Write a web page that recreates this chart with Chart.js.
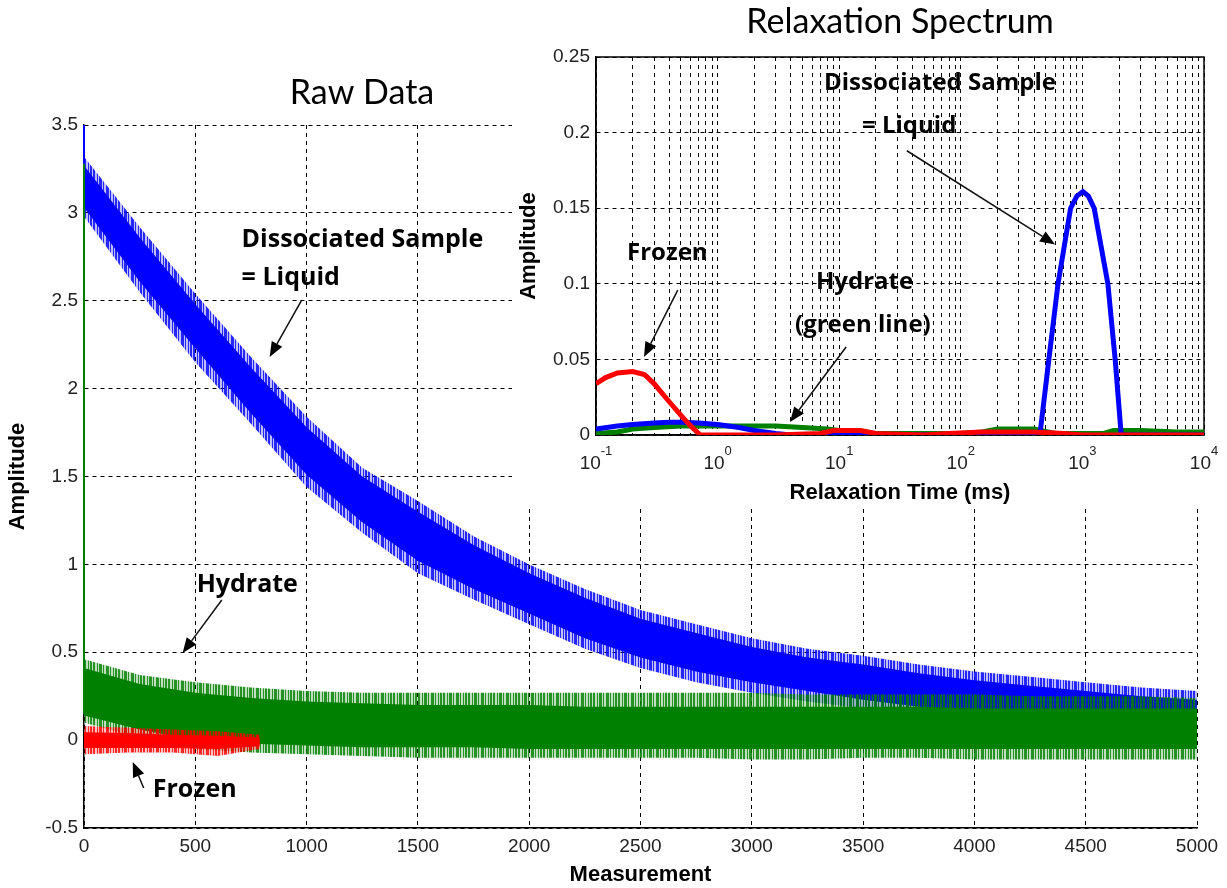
<!DOCTYPE html>
<html lang="en">
<head>
<meta charset="UTF-8">
<title>Raw Data / Relaxation Spectrum</title>
<script src="https://cdn.jsdelivr.net/npm/chart.js"></script>
<style>
    body { margin: 0; background: #fff; }
    #wrap { position: relative; width: 1227px; height: 888px; }
    #rawChart { position: absolute; left: 0; top: 0; }
    #specChart { position: absolute; left: 512px; top: 0; background: #fff; }
</style>
</head>
<body>
<div id="wrap">
    <canvas id="rawChart" width="1227" height="888"></canvas>
    <canvas id="specChart" width="715" height="506"></canvas>
</div>
<script>
// ---- Raw data: edges of the noisy traces, every 250 samples ----
var rawX = [0, 250, 500, 750, 1000, 1250, 1500, 1750, 2000, 2250, 2500, 2750, 3000, 3250, 3500, 3750, 4000, 4250, 4500, 4750, 5000];

// dissociated sample (blue): spike extent and dense core
var blueTop        = [3.32, 2.92, 2.54, 2.18, 1.84, 1.55, 1.36, 1.16, 1.00, 0.86, 0.74, 0.66, 0.58, 0.52, 0.48, 0.43, 0.39, 0.36, 0.33, 0.30, 0.28];
var blueCoreTop    = [3.27, 2.86, 2.48, 2.12, 1.78, 1.50, 1.30, 1.11, 0.95, 0.81, 0.69, 0.61, 0.53, 0.47, 0.43, 0.38, 0.34, 0.31, 0.28, 0.25, 0.23];
var blueCoreBottom = [3.03, 2.61, 2.23, 1.86, 1.51, 1.24, 1.02, 0.86, 0.72, 0.58, 0.47, 0.39, 0.33, 0.28, 0.23, 0.19, 0.15, 0.12, 0.10, 0.08, 0.06];
var blueBottom     = [2.98, 2.55, 2.15, 1.80, 1.44, 1.18, 0.95, 0.80, 0.66, 0.52, 0.41, 0.33, 0.27, 0.22, 0.18, 0.14, 0.10, 0.07, 0.05, 0.03, 0.01];

// hydrate (green)
var greenTop        = [0.46, 0.37, 0.33, 0.30, 0.28, 0.27, 0.27, 0.27, 0.27, 0.27, 0.27, 0.27, 0.27, 0.26, 0.26, 0.26, 0.26, 0.25, 0.25, 0.25, 0.24];
var greenCoreTop    = [0.41, 0.32, 0.27, 0.24, 0.22, 0.21, 0.20, 0.20, 0.20, 0.19, 0.19, 0.19, 0.19, 0.19, 0.19, 0.19, 0.18, 0.18, 0.18, 0.18, 0.18];
var greenCoreBottom = [0.14, 0.06, 0.0, -0.02, -0.03, -0.04, -0.04, -0.04, -0.05, -0.05, -0.05, -0.05, -0.05, -0.05, -0.05, -0.05, -0.05, -0.05, -0.05, -0.05, -0.05];
var greenBottom     = [0.10, 0.01, -0.05, -0.07, -0.08, -0.09, -0.10, -0.10, -0.10, -0.10, -0.10, -0.10, -0.11, -0.11, -0.10, -0.10, -0.11, -0.11, -0.11, -0.11, -0.11];

// frozen (red), only recorded up to ~790
var redX          = [0, 200, 400, 600, 790];
var redTop        = [0.08, 0.07, 0.06, 0.05, 0.03];
var redCoreTop    = [0.045, 0.04, 0.03, 0.025, 0.015];
var redCoreBottom = [-0.045, -0.045, -0.045, -0.05, -0.035];
var redBottom     = [-0.08, -0.07, -0.07, -0.09, -0.05];

// first samples drawn as vertical strokes at x = 0
var leadX = [0, 0];
var greenLeadY = [0.15, 3.28];
var blueLeadY = [3.28, 3.5];

// ---- Relaxation spectrum (log time axis, ms) ----
var specRedX   = [0.1, 0.12, 0.15, 0.2, 0.25, 0.3, 0.4, 0.5, 0.6, 0.72, 1, 3, 7, 9, 15, 20, 50, 80, 150, 400, 700, 1000, 10000];
var specRedY   = [0.034, 0.038, 0.041, 0.042, 0.040, 0.034, 0.022, 0.013, 0.006, 0, 0, 0, 0.001, 0.003, 0.003, 0.001, 0, 0.001, 0.002, 0.002, 0.001, 0, 0];
var specBlueX  = [0.1, 0.15, 0.2, 0.3, 0.4, 0.5, 0.7, 1, 1.5, 2, 3, 4, 440, 450, 530, 630, 800, 900, 1010, 1120, 1250, 1620, 1860, 2076, 2100, 10000];
var specBlueY  = [0.004, 0.006, 0.007, 0.008, 0.0085, 0.0085, 0.008, 0.007, 0.005, 0.003, 0.001, 0, 0, 0.002, 0.05, 0.1, 0.15, 0.158, 0.161, 0.158, 0.15, 0.1, 0.05, 0.002, 0, 0];
var specGreenX = [0.1, 0.15, 0.2, 0.3, 0.5, 1, 2, 3, 5, 8, 10, 15, 20, 50, 100, 150, 200, 400, 450, 600, 1500, 1800, 3000, 6000, 10000];
var specGreenY = [0.001, 0.002, 0.004, 0.005, 0.006, 0.006, 0.006, 0.006, 0.005, 0.004, 0.003, 0.002, 0.001, 0.001, 0.001, 0.002, 0.004, 0.004, 0.003, 0.001, 0.001, 0.003, 0.003, 0.002, 0.002];

var specDecades = [0.1, 1, 10, 100, 1000];
var specSteps = [1, 2, 3, 4, 5, 6, 7, 8, 9];
var specMajor = [0.1, 1, 10, 100, 1000, 10000];
var specExp = ['-1', '0', '1', '2', '3', '4'];

var rawNotes = [
    { text: 'Dissociated Sample', x: 708, y: 2.846 },
    { text: '= Liquid', x: 708, y: 2.63 },
    { text: 'Hydrate', x: 506, y: 0.883 },
    { text: 'Frozen', x: 309, y: -0.284 }
];
var rawArrows = [
    { from: [978, 2.504], to: [834, 2.18] },
    { from: [619, 0.797], to: [443, 0.496] },
    { from: [268, -0.272], to: [219, -0.124] }
];
var specNotes = [
    { text: 'Dissociated Sample', x: 7.5, y: 0.2328 },
    { text: '= Liquid', x: 15.4, y: 0.204 },
    { text: 'Frozen', x: 0.18, y: 0.120 },
    { text: 'Hydrate', x: 6.44, y: 0.101 },
    { text: '(green line)', x: 4.33, y: 0.0727 }
];
var specArrows = [
    { from: [36, 0.188], to: [596, 0.126] },
    { from: [0.47, 0.0958], to: [0.248, 0.0516] },
    { from: [11.4, 0.0582], to: [3.94, 0.0086] }
];

var BLUE = '#0000ff', GREEN = '#008000', RED = '#ff0000';
var tickFont = { family: 'Liberation Sans', size: 19 };
var axisTitleFont = { family: 'Liberation Sans', size: 22, weight: 'bold' };

function pts(xs, ys) {
    return xs.map(function (x, i) { return { x: x, y: ys[i] }; });
}

function plainNumber(v) {
    return String(Math.round(v * 100) / 100);
}

// fringe of a noisy trace: uneven vertical hairlines over a pale tint
function fringe(r, g, b) {
    var cols = '1101001110100101101100101';
    var c = document.createElement('canvas');
    c.width = cols.length;
    c.height = 1;
    var cx = c.getContext('2d');
    cx.fillStyle = 'rgba(' + r + ',' + g + ',' + b + ',0.25)';
    cx.fillRect(0, 0, c.width, 1);
    cx.fillStyle = 'rgba(' + r + ',' + g + ',' + b + ',0.8)';
    for (var i = 0; i < cols.length; i++) {
        if (cols[i] === '1') cx.fillRect(i, 0, 1, 1);
    }
    return cx.createPattern(c, 'repeat');
}

function drawArrow(ctx, x1, y1, x2, y2) {
    var a = Math.atan2(y2 - y1, x2 - x1);
    var len = 15, half = 6;
    var bx = x2 - len * Math.cos(a), by = y2 - len * Math.sin(a);
    ctx.save();
    ctx.strokeStyle = '#111';
    ctx.fillStyle = '#000';
    ctx.lineWidth = 1.5;
    ctx.beginPath();
    ctx.moveTo(x1, y1);
    ctx.lineTo(bx, by);
    ctx.stroke();
    ctx.beginPath();
    ctx.moveTo(x2, y2);
    ctx.lineTo(bx + half * Math.sin(a), by - half * Math.cos(a));
    ctx.lineTo(bx - half * Math.sin(a), by + half * Math.cos(a));
    ctx.closePath();
    ctx.fill();
    ctx.restore();
}

function drawNotes(chart, notes, arrows, font) {
    var ctx = chart.ctx, xs = chart.scales.x, ys = chart.scales.y;
    ctx.save();
    ctx.fillStyle = '#000';
    ctx.font = font;
    ctx.textAlign = 'left';
    ctx.textBaseline = 'middle';
    notes.forEach(function (n) {
        ctx.fillText(n.text, xs.getPixelForValue(n.x), ys.getPixelForValue(n.y));
    });
    ctx.restore();
    arrows.forEach(function (a) {
        drawArrow(ctx,
            xs.getPixelForValue(a.from[0]), ys.getPixelForValue(a.from[1]),
            xs.getPixelForValue(a.to[0]), ys.getPixelForValue(a.to[1]));
    });
}

// ---------------- Raw data chart ----------------
var rawSets = [];
function addBand(xs, top, bottom, fillStyle, order) {
    var bottomIndex = rawSets.length + 1;
    rawSets.push({ data: pts(xs, top), borderWidth: 0, borderColor: 'rgba(0,0,0,0)', pointRadius: 0,
        backgroundColor: fillStyle, fill: bottomIndex, order: order });
    rawSets.push({ data: pts(xs, bottom), borderWidth: 0, borderColor: 'rgba(0,0,0,0)', pointRadius: 0,
        fill: false, order: order });
}
addBand(redX, redCoreTop, redCoreBottom, RED, 1);
addBand(redX, redTop, redBottom, fringe(255, 0, 0), 2);
addBand(rawX, greenCoreTop, greenCoreBottom, GREEN, 3);
addBand(rawX, greenTop, greenBottom, fringe(0, 128, 0), 4);
addBand(rawX, blueCoreTop, blueCoreBottom, BLUE, 5);
addBand(rawX, blueTop, blueBottom, fringe(0, 0, 255), 6);
rawSets.push({ data: pts(leadX, greenLeadY), borderColor: GREEN, borderWidth: 2, pointRadius: 0, fill: false, clip: false, order: 0 });
rawSets.push({ data: pts(leadX, blueLeadY), borderColor: BLUE, borderWidth: 2, pointRadius: 0, fill: false, clip: false, order: 0 });

var rawPlugin = {
    id: 'rawNotes',
    afterDatasetsDraw: function (chart) {
        drawNotes(chart, rawNotes, rawArrows, 'bold 25px "Open Sans"');
    },
    afterDraw: function (chart) {
        var ctx = chart.ctx;
        ctx.save();
        ctx.fillStyle = '#000';
        ctx.font = '34px Lato';
        ctx.textAlign = 'center';
        ctx.textBaseline = 'middle';
        ctx.fillText('Raw Data', 362, 93);
        ctx.restore();
    }
};

new Chart(document.getElementById('rawChart'), {
    type: 'line',
    data: { datasets: rawSets },
    options: {
        responsive: false,
        animation: false,
        events: [],
        layout: { padding: { top: 125, right: 30, left: 0, bottom: 0 } },
        plugins: { legend: { display: false }, tooltip: { enabled: false } },
        scales: {
            x: {
                type: 'linear', min: 0, max: 5000,
                ticks: { stepSize: 500, padding: 7, color: '#222', font: tickFont, maxRotation: 0, autoSkip: false,
                    callback: function (v) { return String(v); } },
                grid: { color: '#000', lineWidth: 1, drawTicks: false },
                border: { display: true, color: '#000', width: 1.5, dash: [4, 4] },
                title: { display: true, text: 'Measurement', color: '#000', font: axisTitleFont, padding: 0 },
                afterFit: function (s) { s.height = 60; }
            },
            y: {
                min: -0.5, max: 3.5,
                ticks: { stepSize: 0.5, padding: 6, color: '#222', font: tickFont, callback: plainNumber },
                grid: { color: '#000', lineWidth: 1, drawTicks: false },
                border: { display: true, color: '#000', width: 1.5, dash: [4, 4] },
                title: { display: true, text: 'Amplitude', color: '#000', font: axisTitleFont, padding: { top: 5, bottom: 0 } },
                afterFit: function (s) { s.width = 84; }
            }
        }
    },
    plugins: [rawPlugin]
});

// ---------------- Relaxation spectrum (inset) ----------------
var specGrid = [];
specDecades.forEach(function (d) {
    specSteps.forEach(function (s) { specGrid.push(d * s); });
});
specGrid.push(10000);

var specPlugin = {
    id: 'specExtras',
    beforeDatasetsDraw: function (chart) {
        var a = chart.chartArea, ctx = chart.ctx;
        ctx.save();
        ctx.strokeStyle = '#000';
        ctx.lineWidth = 1.5;
        ctx.strokeRect(a.left, a.top, a.right - a.left, a.bottom - a.top);
        ctx.restore();
    },
    afterDatasetsDraw: function (chart) {
        drawNotes(chart, specNotes, specArrows, 'bold 24px "Open Sans"');
    },
    afterDraw: function (chart) {
        var ctx = chart.ctx, xs = chart.scales.x;
        ctx.save();
        ctx.fillStyle = '#222';
        ctx.textBaseline = 'alphabetic';
        ctx.textAlign = 'left';
        specMajor.forEach(function (v, i) {
            ctx.font = '19px "Liberation Sans"';
            var w10 = ctx.measureText('10').width;
            ctx.font = '13px "Liberation Sans"';
            var we = ctx.measureText(specExp[i]).width;
            var x0 = xs.getPixelForValue(v) - (w10 + we) / 2;
            ctx.font = '19px "Liberation Sans"';
            ctx.fillText('10', x0, 469);
            ctx.font = '13px "Liberation Sans"';
            ctx.fillText(specExp[i], x0 + w10, 455);
        });
        ctx.fillStyle = '#000';
        ctx.font = '34px Lato';
        ctx.textAlign = 'center';
        ctx.textBaseline = 'middle';
        ctx.fillText('Relaxation Spectrum', 388, 22);
        ctx.restore();
    }
};

new Chart(document.getElementById('specChart'), {
    type: 'line',
    data: {
        datasets: [
            { data: pts(specRedX, specRedY), borderColor: RED, borderWidth: 5, pointRadius: 0, fill: false },
            { data: pts(specBlueX, specBlueY), borderColor: BLUE, borderWidth: 5, pointRadius: 0, fill: false },
            { data: pts(specGreenX, specGreenY), borderColor: GREEN, borderWidth: 5, pointRadius: 0, fill: false }
        ]
    },
    options: {
        responsive: false,
        animation: false,
        events: [],
        layout: { padding: { top: 57, right: 23, left: 0, bottom: 0 } },
        plugins: { legend: { display: false }, tooltip: { enabled: false } },
        scales: {
            x: {
                type: 'logarithmic', min: 0.1, max: 10000,
                afterBuildTicks: function (s) { s.ticks = specGrid.map(function (v) { return { value: v }; }); },
                ticks: { autoSkip: false, maxRotation: 0, font: tickFont, callback: function () { return ''; } },
                grid: { color: '#000', lineWidth: 1, drawTicks: false },
                border: { display: true, color: '#000', width: 1.5, dash: [4, 4] },
                title: { display: true, text: 'Relaxation Time (ms)', color: '#000', font: axisTitleFont, padding: 0 },
                afterFit: function (s) { s.height = 71; }
            },
            y: {
                min: 0, max: 0.25,
                ticks: { stepSize: 0.05, padding: 6, color: '#222', font: tickFont, callback: plainNumber },
                grid: { color: '#000', lineWidth: 1, drawTicks: false },
                border: { display: true, color: '#000', width: 1.5, dash: [4, 4] },
                title: { display: true, text: 'Amplitude', color: '#000', font: axisTitleFont, padding: { top: 4, bottom: 0 } },
                afterFit: function (s) { s.width = 84; }
            }
        }
    },
    plugins: [specPlugin]
});
</script>
</body>
</html>
